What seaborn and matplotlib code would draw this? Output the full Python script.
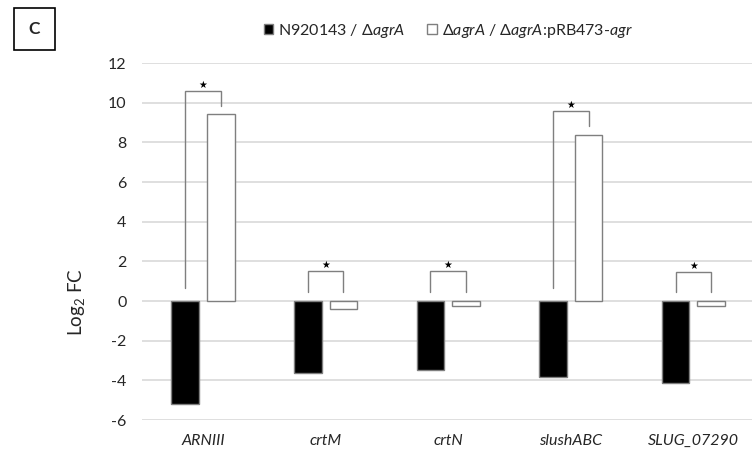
import pandas as pd
import matplotlib
matplotlib.use('Agg')
import matplotlib.pyplot as plt
from matplotlib.patches import Rectangle
import seaborn as sns

# Log2 fold-change values
genes = ['ARNIII', 'crtM', 'crtN', 'slushABC', 'SLUG_07290']
wt_vs_agra = [-5.17, -3.65, -3.5, -3.82, -4.12]
agra_vs_comp = [9.42, -0.42, -0.25, 8.38, -0.25]

# significance brackets: height of the top bar, bottom of left / right legs
bracket_top = [10.58, 1.5, 1.5, 9.57, 1.48]
left_leg_bottom = [0.65, 0.45, 0.45, 0.65, 0.45]
right_leg_bottom = [9.85, 0.45, 0.45, 8.8, 0.45]

series = ['N920143 / ΔagrA', 'ΔagrA / ΔagrA:pRB473-agr']
yticks = list(range(-6, 13, 2))

df = pd.DataFrame({'gene': genes, series[0]: wt_vs_agra, series[1]: agra_vs_comp})
long_df = df.melt(id_vars='gene', var_name='comparison', value_name='log2fc')

sns.set_style('white')
plt.rcParams['font.family'] = ['Lato', 'DejaVu Sans']
plt.rcParams['mathtext.fontset'] = 'custom'
plt.rcParams['mathtext.rm'] = 'Lato'
plt.rcParams['mathtext.it'] = 'Lato:italic'

fig = plt.figure(figsize=(7.52, 4.55), dpi=100)
ax = fig.add_axes([141.7 / 752, 1 - 420 / 455, 613 / 752, 357 / 455])

grey = '#7f7f7f'
sns.barplot(ax=ax, data=long_df, x='gene', y='log2fc', hue='comparison',
            hue_order=series, order=genes,
            palette={series[0]: 'black', series[1]: 'white'},
            saturation=1, errorbar=None, width=0.58, gap=0.22,
            edgecolor=grey, linewidth=1.0, zorder=3)

ax.set_xlim(-0.5, 4.5)
ax.set_ylim(-6, 12)
ax.set_yticks(yticks)
ax.set_yticklabels([str(v) for v in yticks], fontsize=11.5, color='#262626')
ax.tick_params(axis='y', length=0, pad=11)
ax.tick_params(axis='x', length=0, pad=10)
ax.set_xticks(range(len(genes)))
ax.set_xticklabels(genes, fontsize=11.5, style='italic', color='#262626')
ax.grid(axis='y', color='#d9d9d9', linewidth=1.2, zorder=0)
ax.set_axisbelow(True)
for s in ax.spines.values():
    s.set_visible(False)
ax.set_xlabel('')
ax.set_ylabel('Log$_2$ FC', fontsize=13.5, color='#262626')
ax.yaxis.set_label_coords(-0.09, 0.33)

# brackets drawn between the bar centres of each gene
left_bars = ax.containers[0]
right_bars = ax.containers[1]
for i in range(len(genes)):
    xl = left_bars[i].get_x() + left_bars[i].get_width() / 2
    xr = right_bars[i].get_x() + right_bars[i].get_width() / 2
    ax.plot([xl, xl, xr, xr],
            [left_leg_bottom[i], bracket_top[i], bracket_top[i], right_leg_bottom[i]],
            color=grey, linewidth=1.0, zorder=4, solid_joinstyle='miter')
    ax.text((xl + xr) / 2, bracket_top[i] + 0.05, '★', ha='center', va='bottom',
            fontsize=7, color='black', family='DejaVu Sans')

# legend at the top
handles, _ = ax.get_legend_handles_labels()
labels = ['N920143 / Δ$\\it{agrA}$', 'Δ$\\it{agrA}$ / Δ$\\it{agrA}$:pRB473-$\\it{agr}$']
ax.legend(handles, labels, loc='center', bbox_to_anchor=(0.5, 1.09), ncol=2,
          frameon=False, fontsize=11.5, handlelength=0.6, handleheight=0.6,
          handletextpad=0.3, columnspacing=1.4, labelcolor='#262626')

# panel letter
fig.patches.append(Rectangle((14 / 752, 1 - 50 / 455), 41 / 752, 42 / 455,
                             transform=fig.transFigure, fill=False,
                             edgecolor='black', linewidth=1.2))
fig.text(34.5 / 752, 1 - 29 / 455, 'C', ha='center', va='center',
         fontsize=12.5, fontweight='bold')

plt.savefig('out.png', format='png', dpi=100)
